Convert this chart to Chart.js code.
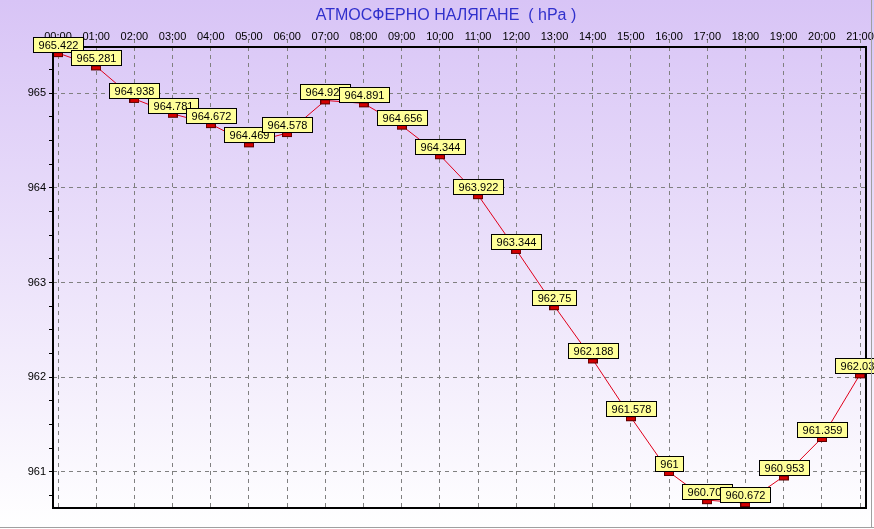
<!DOCTYPE html>
<html lang="bg">
<head>
<meta charset="UTF-8">
<title>Атмосферно налягане</title>
<script src="https://cdn.jsdelivr.net/npm/chart.js@4.4.0/dist/chart.umd.min.js"></script>
<style>
  html, body { margin: 0; padding: 0; background: #fff; }
  #wrap { width: 874px; height: 529px; }
</style>
</head>
<body>
<div id="wrap"><canvas id="chart" width="874" height="529"></canvas></div>
<script>
// hourly readings, hPa
const hours = ['00:00', '01:00', '02:00', '03:00', '04:00', '05:00', '06:00', '07:00', '08:00', '09:00', '10:00',
  '11:00', '12:00', '13:00', '14:00', '15:00', '16:00', '17:00', '18:00', '19:00', '20:00', '21:00'];
const pressure = [965.422, 965.281, 964.938, 964.781, 964.672, 964.469, 964.578, 964.922, 964.891, 964.656, 964.344,
  963.922, 963.344, 962.75, 962.188, 961.578, 961, 960.703, 960.672, 960.953, 961.359, 962.031];

const fontFamily = 'Arial, "Liberation Sans", sans-serif';

// small red bar used as the point marker (sits a little below the point, like the original)
const marker = document.createElement('canvas');
marker.width = 10;
marker.height = 10;
const mctx = marker.getContext('2d');
mctx.fillStyle = '#d40000';
mctx.fillRect(0, 4, 10, 5);
mctx.strokeStyle = '#5a0000';
mctx.lineWidth = 1;
mctx.strokeRect(0.5, 4.5, 9, 4);

const decor = {
  id: 'decor',
  beforeDraw(chart) {
    const {ctx, width, height} = chart;
    const g = ctx.createLinearGradient(0, 0, 0, height);
    g.addColorStop(0, '#d8c4f6');
    g.addColorStop(1, '#ffffff');
    ctx.save();
    ctx.fillStyle = g;
    ctx.fillRect(0, 0, width, height);
    ctx.restore();
  },
  afterDatasetsDraw(chart) {
    const {ctx, chartArea: a} = chart;
    ctx.save();
    // plot frame
    ctx.strokeStyle = '#000';
    ctx.lineWidth = 2;
    ctx.strokeRect(a.left, a.top, a.right - a.left, a.bottom - a.top);

    // value boxes, later ones drawn over earlier ones
    ctx.font = '11px ' + fontFamily;
    ctx.textAlign = 'center';
    ctx.textBaseline = 'middle';
    chart.getDatasetMeta(0).data.forEach((pt, i) => {
      const txt = String(pressure[i]);
      const w = Math.round(ctx.measureText(txt).width + 10);
      const h = 15;
      const x = Math.round(pt.x - w / 2) + 0.5;
      const y = Math.round(pt.y - h) - 0.5;
      ctx.fillStyle = '#ffff99';
      ctx.fillRect(x, y, w, h);
      ctx.strokeStyle = '#000';
      ctx.lineWidth = 1;
      ctx.strokeRect(x, y, w, h);
      ctx.fillStyle = '#000';
      ctx.fillText(txt, x + w / 2, y + h / 2 + 0.5);
    });

    // window edge
    ctx.strokeStyle = '#a0a0a0';
    ctx.lineWidth = 1;
    ctx.beginPath();
    ctx.moveTo(0, 527.5);
    ctx.lineTo(874, 527.5);
    ctx.moveTo(871.5, 0);
    ctx.lineTo(871.5, 528);
    ctx.stroke();
    ctx.restore();
  }
};

Chart.defaults.font.family = fontFamily;
Chart.defaults.font.size = 11;

new Chart(document.getElementById('chart'), {
  type: 'line',
  data: {
    datasets: [{
      data: pressure.map((v, i) => ({x: i, y: v})),
      borderColor: '#e0001a',
      borderWidth: 1,
      pointStyle: marker,
      pointRadius: 5,
      tension: 0,
      clip: false
    }]
  },
  options: {
    responsive: false,
    animation: false,
    devicePixelRatio: 1,
    events: [],
    // left padding only pushes the full-width title to the right
    layout: {padding: {left: 26, right: 8, top: 0, bottom: 21}},
    plugins: {
      legend: {display: false},
      tooltip: {enabled: false},
      title: {
        display: true,
        text: 'АТМОСФЕРНО НАЛЯГАНЕ  ( hPa )',
        color: '#3030cc',
        font: {size: 16, weight: 'normal'},
        padding: {top: 6, bottom: 4}
      }
    },
    scales: {
      x: {
        type: 'linear',
        position: 'top',
        min: -0.131,
        max: 21.157,
        afterFit: (s) => { s.height = 17.8; s.paddingLeft = 0; s.paddingRight = 0; },
        border: {display: false, dash: [4, 4]},
        grid: {color: '#808080', tickColor: '#808080', tickLength: 7, tickBorderDash: [3, 3]},
        ticks: {
          stepSize: 1,
          autoSkip: false,
          maxRotation: 0,
          includeBounds: false,
          padding: -4,
          color: '#000',
          callback: (v) => hours[v] ?? ''
        }
      },
      y: {
        type: 'linear',
        min: 960.62,
        max: 965.486,
        afterFit: (s) => { s.width = 27; },
        border: {display: false, dash: [4, 4]},
        grid: {
          color: (c) => (c.tick && Number.isInteger(c.tick.value)) ? '#808080' : 'rgba(0,0,0,0)',
          tickColor: '#000',
          tickLength: 4
        },
        ticks: {
          stepSize: 0.25,
          autoSkip: false,
          includeBounds: false,
          padding: 3,
          color: '#000',
          callback: (v) => Number.isInteger(v) ? String(v) : ''
        }
      }
    }
  },
  plugins: [decor]
});
</script>
</body>
</html>
